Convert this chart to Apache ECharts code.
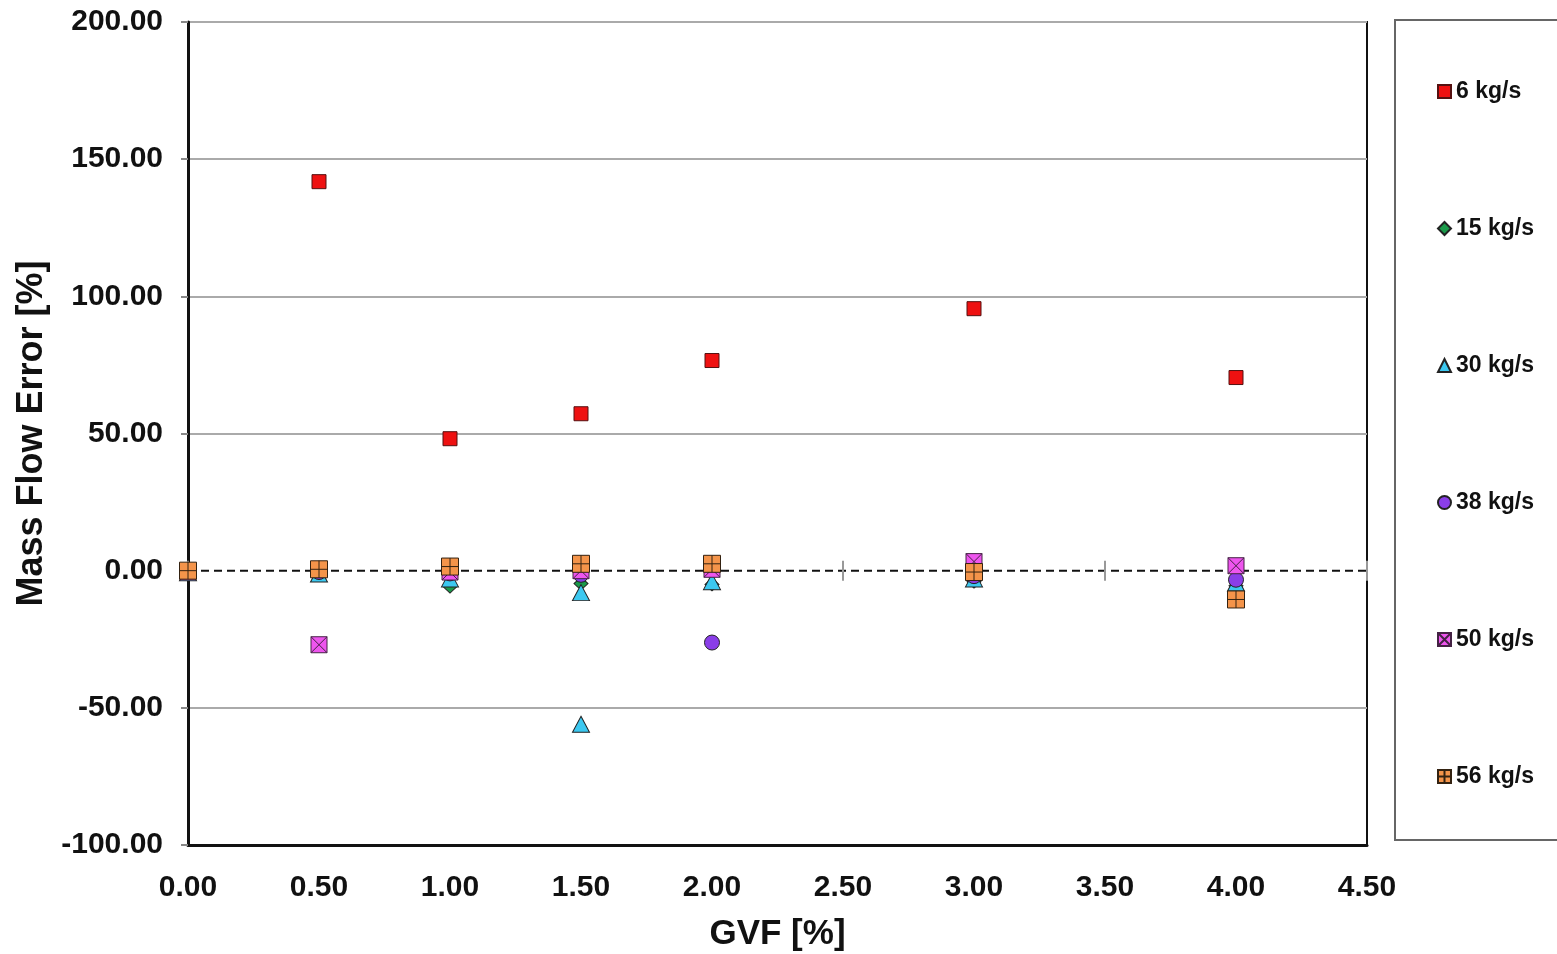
<!DOCTYPE html>
<html>
<head>
<meta charset="utf-8">
<script src="https://cdn.jsdelivr.net/npm/echarts@6/dist/echarts.min.js"></script>
<style>
  html, body { margin: 0; padding: 0; background: #fff; }
  #chart { width: 1557px; height: 954px; }
</style>
</head>
<body>
<div id="chart"></div>
<script>
// GVF positions of the measurements
const gvf = [0, 0.5, 1.0, 1.5, 2.0, 3.0, 4.0];
// mass flow error [%] for each flow rate (null = no point)
const flow6 = [null, 141.8, 48.1, 57.2, 76.6, 95.5, 70.4];
const flow15 = [-1.0, -1.5, -5.8, -4.7, -5.0, -4.0, -5.5];
const gvf30 = [0, 0.5, 1.0, 1.5, 1.5, 2.0, 3.0, 4.0];
const flow30 = [-0.8, -1.2, -3.0, -8.0, -56.0, -4.0, -3.0, -4.5];
const flow38 = [-0.5, -0.5, -1.0, -1.5, -26.2, -2.0, -3.3];
const flow50 = [-0.5, -27.0, -0.5, 0.0, 0.5, 3.3, 1.8];
const flow56 = [0.0, 0.5, 1.5, 2.5, 2.5, -0.5, -10.5];
// reference line at zero error
const zeroX = [0, 0.5, 1.0, 1.5, 2.0, 2.5, 3.0, 3.5, 4.0, 4.5];

const pairs = (xs, ys) => xs.map((x, i) => [x, ys[i]]).filter((p) => p[1] !== null);

const textColor = "#111";
const font = "Liberation Sans, Arial, sans-serif";

const boxX = "path://M0 0 L10 0 L10 10 L0 10 Z M0 0 L10 10 M10 0 L0 10";
const boxPlus = "path://M0 0 L10 0 L10 10 L0 10 Z M5 0 L5 10 M0 5 L10 5";

const chart = echarts.init(document.getElementById("chart"));

const scatter = (name, data, symbol, size, color, border) => ({
  name: name,
  type: "scatter",
  data: data,
  symbol: symbol,
  symbolSize: size,
  itemStyle: { color: color, borderColor: border || "#222", borderWidth: 1, opacity: 1 },
  z: 3,
});

chart.setOption({
  animation: false,
  textStyle: { fontFamily: font },
  grid: {
    left: 188,
    right: 190,
    top: 22,
    bottom: 109,
    outerBoundsMode: "none",
    containLabel: false,
    show: true,
    borderColor: "#111",
    borderWidth: 2,
  },
  legend: {
    orient: "vertical",
    left: 1395,
    top: 20,
    padding: [60, 120, 52, 42],
    itemGap: 114,
    itemWidth: 13,
    itemHeight: 13,
    borderColor: "#666",
    borderWidth: 2,
    textStyle: { fontSize: 23, fontWeight: "bold", color: textColor, fontFamily: font },
    data: ["6 kg/s", "15 kg/s", "30 kg/s", "38 kg/s", "50 kg/s", "56 kg/s"],
  },
  xAxis: {
    type: "value",
    min: 0,
    max: 4.5,
    interval: 0.5,
    name: "GVF [%]",
    nameLocation: "middle",
    nameGap: 72,
    nameTextStyle: { fontSize: 35, fontWeight: "bold", color: textColor },
    axisLine: { onZero: false, lineStyle: { color: "#111", width: 3 } },
    axisTick: { show: false },
    axisLabel: {
      fontSize: 30,
      fontWeight: "bold",
      color: textColor,
      margin: 28,
      formatter: (v) => v.toFixed(2),
    },
    splitLine: { show: false },
  },
  yAxis: {
    type: "value",
    min: -100,
    max: 200,
    interval: 50,
    name: "Mass Flow Error [%]",
    nameLocation: "middle",
    nameGap: 133,
    nameRotate: 90,
    nameTextStyle: { fontSize: 36, fontWeight: "bold", color: textColor },
    axisLine: { onZero: false, lineStyle: { color: "#111", width: 3 } },
    axisTick: { show: true, length: 7, lineStyle: { color: "#888", width: 2 } },
    axisLabel: {
      fontSize: 30,
      fontWeight: "bold",
      color: textColor,
      margin: 25,
      formatter: (v) => v.toFixed(2),
    },
    splitLine: {
      show: true,
      lineStyle: {
        color: ["#aaa", "#aaa", "rgba(0,0,0,0)", "#aaa", "#aaa", "#aaa", "#aaa"],
        width: 2,
      },
    },
  },
  series: [
    {
      name: "zero",
      type: "line",
      data: zeroX.map((x) => [x, 0]),
      symbol: "rect",
      symbolSize: [2, 20],
      showSymbol: true,
      itemStyle: { color: "#999", borderWidth: 0 },
      lineStyle: { color: "#111", width: 2, type: [8, 5] },
      z: 2,
      silent: true,
    },
    scatter("6 kg/s", pairs(gvf, flow6), "rect", 14, "#ee1111", "#551111"),
    scatter("15 kg/s", pairs(gvf, flow15), "diamond", [14, 13], "#1a9a4a"),
    scatter("30 kg/s", pairs(gvf30, flow30), "triangle", [17, 16], "#3cc8f0"),
    scatter("38 kg/s", pairs(gvf, flow38), "circle", 15, "#8a3ee8"),
    scatter("50 kg/s", pairs(gvf, flow50), boxX, 16, "#ee55ee", "#442244"),
    scatter("56 kg/s", pairs(gvf, flow56), boxPlus, 17, "#f4944a", "#332211"),
  ],
});
</script>
</body>
</html>
